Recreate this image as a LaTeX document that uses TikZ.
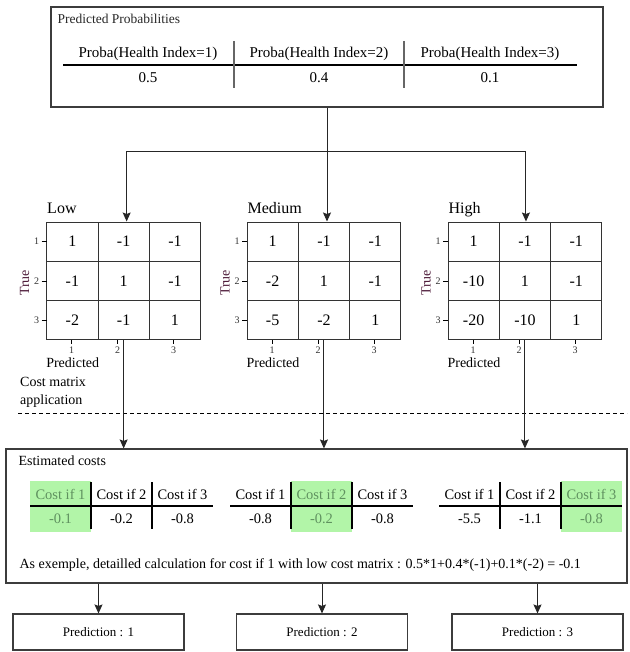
\documentclass[tikz,border=0pt]{standalone}
\usepackage{fontspec}
\setmainfont{Liberation Serif}
\usetikzlibrary{arrows.meta}
\definecolor{bestfill}{RGB}{178,245,168}
\definecolor{besttext}{RGB}{95,145,95}
\definecolor{axiscol}{RGB}{80,30,60}
\definecolor{edgecol}{RGB}{60,60,60}
\newcommand{\fsz}[1]{\fontsize{#1}{#1}\selectfont}
\begin{document}
\begin{tikzpicture}[x=1pt, y=-1pt,
    box/.style = {draw=edgecol, line width=1.1pt, inner sep=0pt},
    cell/.style = {draw=black!80, line width=1pt, minimum width=51.3pt, minimum height=39.3pt,
                   inner sep=0pt, font=\fsz{16}},
    arr/.style = {draw=black!85, line width=1pt, -{Stealth[length=9pt,width=8pt,inset=1.5pt]}},
    link/.style = {draw=black!85, line width=1pt},
    rule/.style = {line width=1.3pt},
    sep/.style = {draw=black!60, line width=1.3pt},
    tick/.style = {font=\fsz{10}, text=black!80},
    lbl/.style = {font=\fsz{15}}]
    \useasboundingbox (0,0) rectangle (629,652);

    % predicted probabilities
    \node[box, minimum width=552pt, minimum height=100pt] (probs) at (327,57) {};
    \node[anchor=west, font=\fsz{13.5}, text=black!85] (probtitle) at (54,19) {Predicted Probabilities};
    \foreach \i/\xc/\p in {1/148/0.5, 2/319/0.4, 3/490/0.1} {
        \node[lbl] (head\i) at (\xc,54) {Proba(Health Index=\i)};
        \node[lbl] (prob\i) at (\xc,78) {\p};
    }
    \draw[rule] (63,65) -- (577,65);
    \draw[sep] (234,41) -- (234,88) (404,41) -- (404,88);

    % cost matrices
    \foreach \nm/\xo/\lab/\vals in {low/46.7/Low/{1,-1,-1,-1,1,-1,-2,-1,1},
                                    med/247/Medium/{1,-1,-1,-2,1,-1,-5,-2,1},
                                    high/448/High/{1,-1,-1,-10,1,-1,-20,-10,1}} {
        \node[anchor=base west, font=\fsz{16}] (\nm-title) at (\xo-3,214) {\lab};
        \foreach \v [count=\k from 0] in \vals {
            \pgfmathtruncatemacro\r{div(\k,3)}
            \pgfmathtruncatemacro\c{mod(\k,3)}
            \node[cell] (\nm-\r-\c) at (\xo+25.65+\c*51.3, 241.65+\r*39.3) {\v};
        }
        \foreach \r [count=\n] in {0,1,2} {
            \draw[line width=0.8pt] (\xo-5, 241.65+\r*39.3) -- (\xo, 241.65+\r*39.3);
            \node[tick] (\nm-row\n) at (\xo-10, 241.65+\r*39.3) {\n};
        }
        \foreach \n/\off in {1/25, 2/71, 3/127} {
            \draw[line width=0.8pt] (\xo+\off,340) -- (\xo+\off,344);
            \node[tick] (\nm-col\n) at (\xo+\off,350) {\n};
        }
        \node[font=\fsz{14}] (\nm-pred) at (\xo+26,363) {Predicted};
        \node[font=\fsz{14}, text=axiscol, rotate=90] (\nm-true) at (\xo-22,283) {True};
    }

    \coordinate (split) at (327,152);
    \draw[link] (probs) -- (split);
    \draw[arr] (split) -| ([xshift=3pt]low-0-1.north);
    \draw[arr] (split) -- (split |- med-0-1.north);
    \draw[arr] (split) -| ([xshift=1pt]high-0-1.north);

    \node[anchor=west, align=left, inner sep=0pt, font=\fontsize{14}{18}\selectfont] (costapp) at (20,392) {Cost matrix\\application};
    \draw[dashed, line width=0.9pt, dash pattern=on 4pt off 3pt] (18,413) -- (627,413);

    % estimated costs
    \node[box, minimum width=621pt, minimum height=134pt] (costs) at (316.5,516) {};
    \node[anchor=west, font=\fsz{14}] (costtitle) at (15,461) {Estimated costs};
    \foreach \m in {low, med, high}
        \draw[arr] (\m-2-1.south) -- (\m-2-1.south |- costs.north);

    \foreach \g/\xo/\best/\vals in {1/30/1/{-0.1,-0.2,-0.8},
                                    2/230/2/{-0.8,-0.2,-0.8},
                                    3/439/3/{-5.5,-1.1,-0.8}} {
        \fill[bestfill] (\xo+\best*61-61,481) rectangle (\xo+\best*61,532);
        \foreach \v [count=\c] in \vals {
            \pgfmathsetmacro\xc{\xo+\c*61-30.5}
            \ifnum\c=\best\relax \def\tc{besttext}\else \def\tc{black}\fi
            \node[font=\fsz{14.5}, text=\tc] (cost\g-h\c) at (\xc,494) {Cost if \c};
            \node[font=\fsz{14.5}, text=\tc] (cost\g-v\c) at (\xc,519) {\v};
        }
        \draw[rule] (\xo,506) -- (\xo+183,506);
        \draw[rule] (\xo+61,482) -- (\xo+61,529) (\xo+122,482) -- (\xo+122,529);
    }
    \node[anchor=west, font=\fsz{14}] (calc) at (16,565) {As exemple, detailled calculation for cost if 1 with low cost matrix : 0.5*1+0.4*(-1)+0.1*(-2) = -0.1};

    % predictions
    \foreach \i/\xc in {1/98.5, 2/322, 3/537.5} {
        \node[box, minimum width=171pt, minimum height=36pt, font=\fsz{13}] (pred\i) at (\xc,632) {Prediction : \i};
        \draw[arr] (costs.south -| pred\i.north) -- (pred\i.north);
    }
\end{tikzpicture}
\end{document}
